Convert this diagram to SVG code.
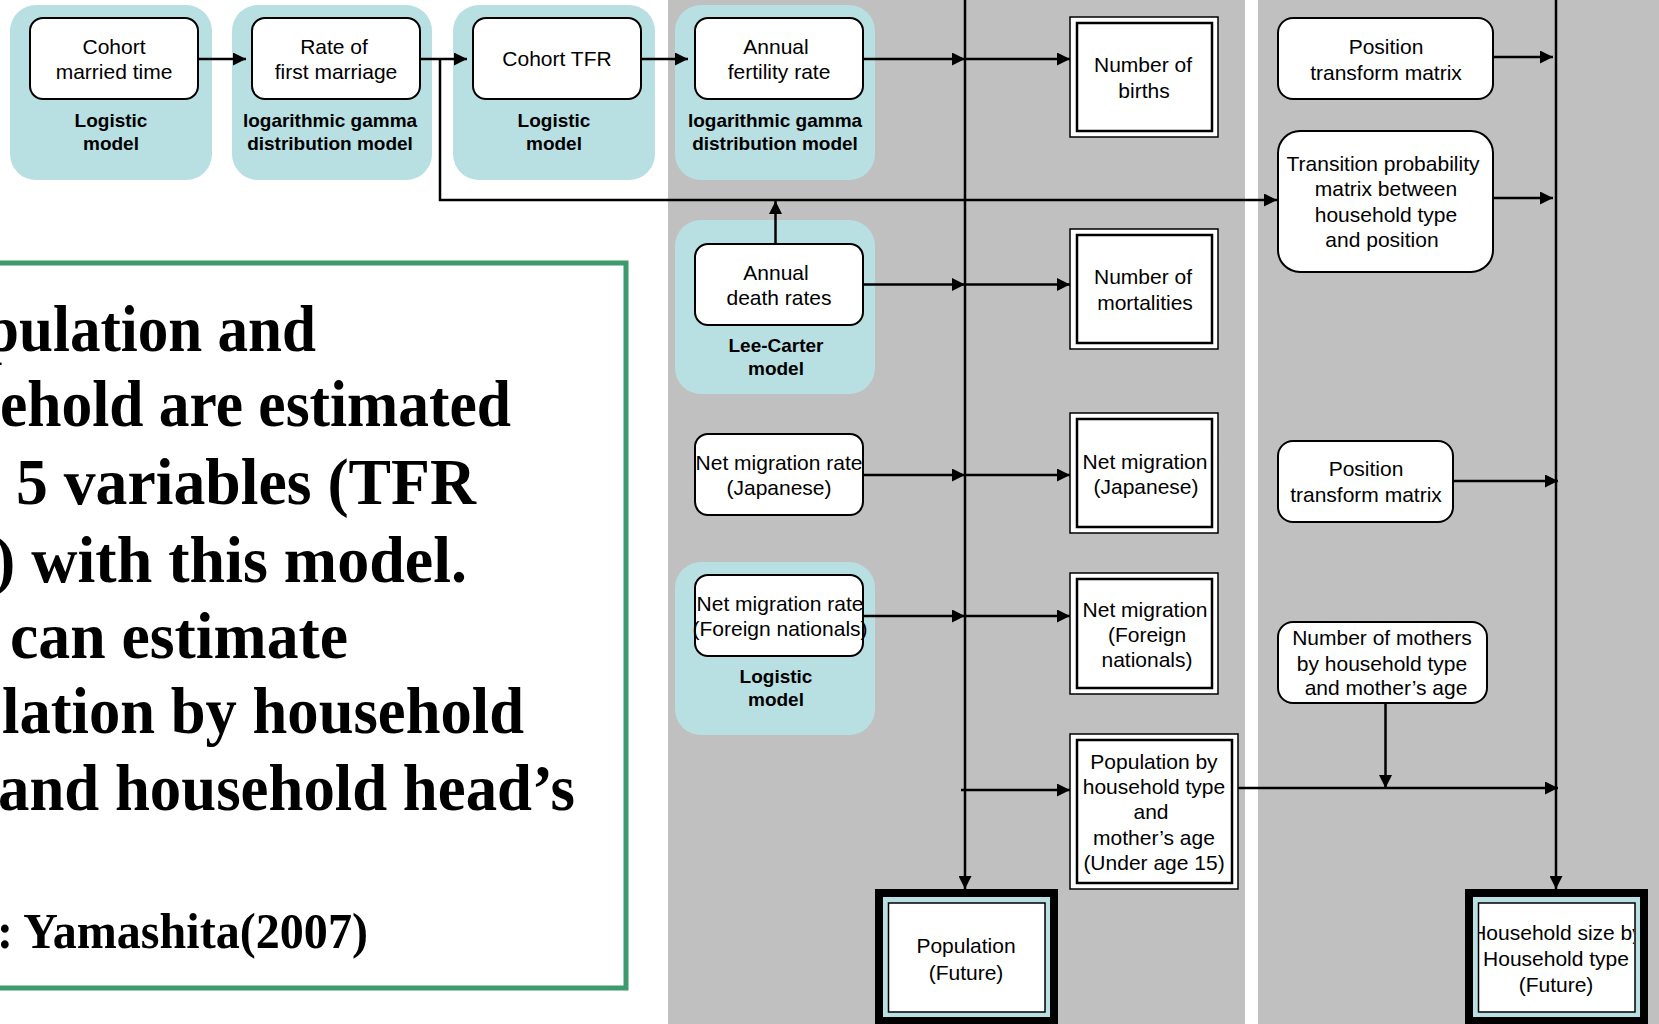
<svg xmlns="http://www.w3.org/2000/svg" width="1659" height="1024" viewBox="0 0 1659 1024">
  <defs>
    <style>
      .lane { fill: #c0c0c0; }
      .model { fill: #b8dfe2; }
      .rbox { fill: #ffffff; stroke: #000000; stroke-width: 2; }
      .outer { fill: #ffffff; stroke: #000000; stroke-width: 1.5; }
      .inner { fill: none; stroke: #000000; stroke-width: 2.5; }
      .nt { font-family: "Liberation Sans", Arial, sans-serif; font-size: 21px; text-anchor: middle; fill: #000000; }
      .lb { font-family: "Liberation Sans", Arial, sans-serif; font-size: 19px; font-weight: bold; text-anchor: middle; fill: #000000; }
      .big { font-family: "Liberation Serif", "Times New Roman", serif; font-weight: bold; font-size: 66px; fill: #000000; }
      .conn { fill: none; stroke: #000000; stroke-width: 2.5; }
      .arr { marker-end: url(#head); }
    </style>
    <marker id="head" markerUnits="userSpaceOnUse" markerWidth="13" markerHeight="13" viewBox="0 0 13 13" refX="13" refY="6.5" orient="auto">
      <path d="M0,0 L13,6.5 L0,13 Z" fill="#000000"/>
    </marker>
    <clipPath id="hhClip">
      <rect x="1479" y="903" width="155" height="109"/>
    </clipPath>
  </defs>

  <!-- background and swim lanes -->
  <rect x="0" y="0" width="1659" height="1024" fill="#ffffff"/>
  <rect class="lane" x="668" y="0" width="577" height="1024"/>
  <rect class="lane" x="1258" y="0" width="401" height="1024"/>

  <!-- explanatory text panel -->
  <g id="note">
    <rect x="-10" y="263" width="636" height="725" fill="#ffffff" stroke="#3c9a6c" stroke-width="5"/>
    <text class="big" x="-15" y="351" textLength="331" lengthAdjust="spacingAndGlyphs">pulation and</text>
    <text class="big" x="0" y="426" textLength="511" lengthAdjust="spacingAndGlyphs">ehold are estimated</text>
    <text class="big" x="16" y="504" textLength="460" lengthAdjust="spacingAndGlyphs">5 variables (TFR</text>
    <text class="big" x="-6" y="582" textLength="473" lengthAdjust="spacingAndGlyphs">) with this model.</text>
    <text class="big" x="10" y="658" textLength="338" lengthAdjust="spacingAndGlyphs">can estimate</text>
    <text class="big" x="2" y="733" textLength="522" lengthAdjust="spacingAndGlyphs">lation by household</text>
    <text class="big" x="-2" y="810" textLength="577" lengthAdjust="spacingAndGlyphs">and household head’s</text>
    <text class="big" x="-3" y="948" style="font-size:50px" textLength="371" lengthAdjust="spacingAndGlyphs">: Yamashita(2007)</text>
  </g>

  <!-- model groups (teal backgrounds) with their rate boxes -->
  <g id="cohort-married-time">
    <rect class="model" x="10" y="5" width="202" height="175" rx="26"/>
    <rect class="rbox" x="30" y="18" width="168" height="81" rx="13"/>
    <text class="nt" x="114" y="54">Cohort</text>
    <text class="nt" x="114" y="79">married time</text>
    <text class="lb" x="111" y="127">Logistic</text>
    <text class="lb" x="111" y="150">model</text>
  </g>

  <g id="first-marriage-rate">
    <rect class="model" x="232" y="5" width="200" height="175" rx="26"/>
    <rect class="rbox" x="252" y="18" width="168" height="81" rx="13"/>
    <text class="nt" x="334" y="54">Rate of</text>
    <text class="nt" x="336" y="79">first marriage</text>
    <text class="lb" x="330" y="127">logarithmic gamma</text>
    <text class="lb" x="330" y="150">distribution model</text>
  </g>

  <g id="cohort-tfr">
    <rect class="model" x="453" y="5" width="202" height="175" rx="26"/>
    <rect class="rbox" x="473" y="18" width="168" height="81" rx="13"/>
    <text class="nt" x="557" y="66">Cohort TFR</text>
    <text class="lb" x="554" y="127">Logistic</text>
    <text class="lb" x="554" y="150">model</text>
  </g>

  <g id="annual-fertility-rate">
    <rect class="model" x="675" y="5" width="200" height="175" rx="26"/>
    <rect class="rbox" x="695" y="18" width="168" height="81" rx="13"/>
    <text class="nt" x="776" y="54">Annual</text>
    <text class="nt" x="779" y="79">fertility rate</text>
    <text class="lb" x="775" y="127">logarithmic gamma</text>
    <text class="lb" x="775" y="150">distribution model</text>
  </g>

  <g id="annual-death-rates">
    <rect class="model" x="675" y="220" width="200" height="174" rx="26"/>
    <rect class="rbox" x="695" y="244" width="168" height="81" rx="13"/>
    <text class="nt" x="776" y="280">Annual</text>
    <text class="nt" x="779" y="305">death rates</text>
    <text class="lb" x="776" y="352">Lee-Carter</text>
    <text class="lb" x="776" y="375">model</text>
  </g>

  <g id="net-migration-rate-japanese">
    <rect class="rbox" x="695" y="434" width="168" height="81" rx="13"/>
    <text class="nt" x="779" y="470">Net migration rate</text>
    <text class="nt" x="779" y="495">(Japanese)</text>
  </g>

  <g id="net-migration-rate-foreign">
    <rect class="model" x="675" y="562" width="200" height="173" rx="26"/>
    <rect class="rbox" x="695" y="575" width="168" height="81" rx="13"/>
    <text class="nt" x="780" y="611">Net migration rate</text>
    <text class="nt" x="780" y="636">(Foreign nationals)</text>
    <text class="lb" x="776" y="683">Logistic</text>
    <text class="lb" x="776" y="706">model</text>
  </g>

  <!-- counted quantities (double-bordered boxes) -->
  <g id="number-of-births">
    <rect class="outer" x="1070" y="17" width="148" height="120"/>
    <rect class="inner" x="1077" y="23" width="135" height="108"/>
    <text class="nt" x="1143" y="72">Number of</text>
    <text class="nt" x="1144" y="98">births</text>
  </g>

  <g id="number-of-mortalities">
    <rect class="outer" x="1070" y="229" width="148" height="120"/>
    <rect class="inner" x="1077" y="235" width="135" height="108"/>
    <text class="nt" x="1143" y="284">Number of</text>
    <text class="nt" x="1145" y="310">mortalities</text>
  </g>

  <g id="net-migration-japanese">
    <rect class="outer" x="1070" y="413" width="148" height="120"/>
    <rect class="inner" x="1077" y="419" width="135" height="108"/>
    <text class="nt" x="1145" y="469">Net migration</text>
    <text class="nt" x="1146" y="494">(Japanese)</text>
  </g>

  <g id="net-migration-foreign">
    <rect class="outer" x="1070" y="573" width="148" height="121"/>
    <rect class="inner" x="1077" y="579" width="135" height="109"/>
    <text class="nt" x="1145" y="617">Net migration</text>
    <text class="nt" x="1147" y="642">(Foreign</text>
    <text class="nt" x="1147" y="667">nationals)</text>
  </g>

  <g id="population-by-household-type">
    <rect class="outer" x="1070" y="734" width="168" height="155"/>
    <rect class="inner" x="1077" y="740" width="155" height="143"/>
    <text class="nt" x="1154" y="769">Population by</text>
    <text class="nt" x="1154" y="794">household type</text>
    <text class="nt" x="1151" y="819">and</text>
    <text class="nt" x="1154" y="845">mother’s age</text>
    <text class="nt" x="1154" y="870">(Under age 15)</text>
  </g>

  <!-- projected results -->
  <g id="population-future">
    <rect x="875" y="889" width="183" height="136" fill="#000000"/>
    <rect x="883" y="897" width="167" height="120" fill="#b8dfe2"/>
    <rect x="888.5" y="903" width="156.5" height="109" fill="#ffffff" stroke="#000000" stroke-width="1.5"/>
    <text class="nt" x="966" y="953">Population</text>
    <text class="nt" x="966" y="980">(Future)</text>
  </g>

  <g id="household-size-future">
    <rect x="1465" y="889" width="183" height="136" fill="#000000"/>
    <rect x="1473" y="897" width="167" height="120" fill="#b8dfe2"/>
    <rect x="1478.5" y="903" width="156.5" height="109" fill="#ffffff" stroke="#000000" stroke-width="1.5"/>
    <g clip-path="url(#hhClip)">
      <text class="nt" x="1557" y="940">Household size by</text>
    </g>
    <text class="nt" x="1556" y="966">Household type</text>
    <text class="nt" x="1556" y="992">(Future)</text>
  </g>

  <!-- household-side matrices -->
  <g id="position-transform-matrix-1">
    <rect class="rbox" x="1278" y="18" width="215" height="81" rx="15"/>
    <text class="nt" x="1386" y="54">Position</text>
    <text class="nt" x="1386" y="80">transform matrix</text>
  </g>

  <g id="transition-probability-matrix">
    <rect class="rbox" x="1278" y="131" width="215" height="141" rx="22"/>
    <text class="nt" x="1383" y="171">Transition probability</text>
    <text class="nt" x="1386" y="196">matrix between</text>
    <text class="nt" x="1386" y="222">household type</text>
    <text class="nt" x="1382" y="247">and position</text>
  </g>

  <g id="position-transform-matrix-2">
    <rect class="rbox" x="1278" y="441" width="175" height="81" rx="15"/>
    <text class="nt" x="1366" y="476">Position</text>
    <text class="nt" x="1366" y="502">transform matrix</text>
  </g>

  <g id="number-of-mothers">
    <rect class="rbox" x="1278" y="622" width="209" height="81" rx="15"/>
    <text class="nt" x="1382" y="645">Number of mothers</text>
    <text class="nt" x="1382" y="671">by household type</text>
    <text class="nt" x="1386" y="695">and mother’s age</text>
  </g>

  <!-- connectors -->
  <g id="connectors">
    <path class="conn arr" d="M198,59 H246"/>
    <path class="conn arr" d="M420,59 H467"/>
    <path class="conn arr" d="M641,59 H688"/>
    <path class="conn arr" d="M440,59 V200 H1277"/>
    <path class="conn arr" d="M775.5,244 V201"/>

    <path class="conn arr" d="M965,0 V889"/>
    <path class="conn arr" d="M1556,0 V889"/>

    <path class="conn arr" d="M862,59 H965"/>
    <path class="conn arr" d="M965,59 H1070"/>
    <path class="conn arr" d="M862,284.5 H965"/>
    <path class="conn arr" d="M965,284.5 H1070"/>
    <path class="conn arr" d="M862,475 H965"/>
    <path class="conn arr" d="M965,475 H1070"/>
    <path class="conn arr" d="M862,616 H965"/>
    <path class="conn arr" d="M965,616 H1070"/>
    <path class="conn arr" d="M961,790 H1070"/>

    <path class="conn arr" d="M1238,788 H1558"/>
    <path class="conn arr" d="M1385.5,703 V788"/>
    <path class="conn arr" d="M1493,57 H1553"/>
    <path class="conn arr" d="M1493,198 H1553"/>
    <path class="conn arr" d="M1453,481 H1558"/>
  </g>
</svg>
